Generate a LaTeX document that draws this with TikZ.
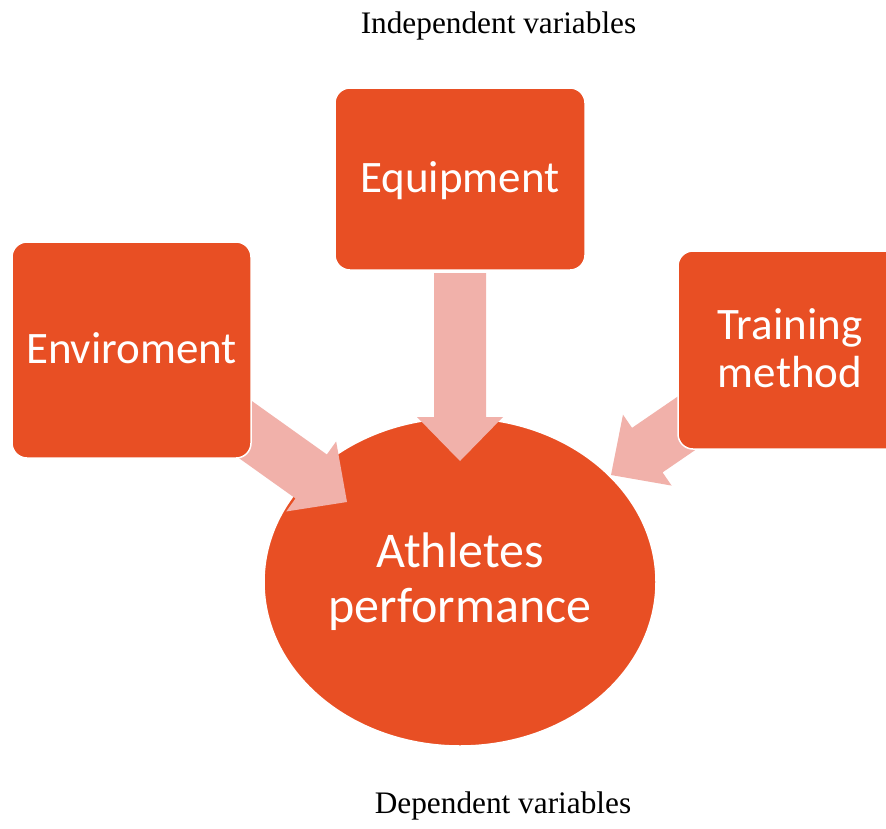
\documentclass[tikz,border=0pt]{standalone}
\usepackage{fontspec}
\setmainfont{Liberation Serif}
\newfontfamily\boxfont{Carlito}
\usetikzlibrary{calc,shapes.geometric}
\definecolor{blockorange}{HTML}{E84F24}
\definecolor{arrowpink}{HTML}{F1B1AA}

% Block arrow from #1 (tail) to #2 (tip): shaft half width #3, head half width #4
\newcommand\blockarrowpath[4]{%
  \path ($(#2)!44pt!(#1)$) coordinate (bahead);
  \fill[blockarrow]
    ($(#1)!#3!90:(#2)$) -- ($(bahead)!#3!90:(#2)$) -- ($(bahead)!#4!90:(#2)$) --
    (#2) --
    ($(bahead)!#4!-90:(#2)$) -- ($(bahead)!#3!-90:(#2)$) -- ($(#1)!#3!-90:(#2)$) -- cycle;}

\begin{document}
\begin{tikzpicture}[x=1pt,y=-1pt,
  factor/.style={rectangle, fill=blockorange, draw=white, line width=1.5pt,
    rounded corners=15pt, text=white, inner sep=0pt, align=center,
    font=\boxfont\fontsize{45}{48}\selectfont, text height=37pt, text depth=11pt},
  outcome/.style={ellipse, fill=blockorange, draw=white, line width=1.5pt,
    text=white, inner sep=0pt, align=center,
    minimum width=392pt, minimum height=328pt,
    font=\boxfont\fontsize{50}{55}\selectfont, text height=92.5pt, text depth=12.5pt},
  caption/.style={font=\fontsize{31.3}{36}\selectfont, anchor=base, inner sep=0pt},
  blockarrow/.style={fill=arrowpink}]

\clip (0,0) rectangle (886,828);
\fill[white] (0,0) rectangle (886,828);

% captions
\node[caption] (indep) at (498.5,33) {Independent variables};
\node[caption] (dep) at (503,813) {Dependent variables};

% dependent variable
\node[outcome] (perf) at (460,582) {Athletes\\performance};

% arrow end points
\coordinate (env-tail) at (225,415);
\coordinate (env-tip) at (347,502);
\coordinate (equip-tail) at (460,273);
\coordinate (equip-tip) at (460,461);
\coordinate (train-tail) at (735,390);
\coordinate (train-tip) at (611,475);

\blockarrowpath{env-tail}{env-tip}{27pt}{43pt}
\blockarrowpath{equip-tail}{equip-tip}{26pt}{43pt}
\blockarrowpath{train-tail}{train-tip}{27pt}{43pt}

% independent variables
\node[factor, minimum width=250pt, minimum height=182pt] (equip) at (460,179) {Equipment};
\node[factor, minimum width=239pt, minimum height=216pt] (env) at (131.5,350) {Enviroment};
\node[factor, minimum width=224pt, minimum height=198pt, text height=85pt]
  (train) at (790,350) {Training\\method};
\end{tikzpicture}
\end{document}
